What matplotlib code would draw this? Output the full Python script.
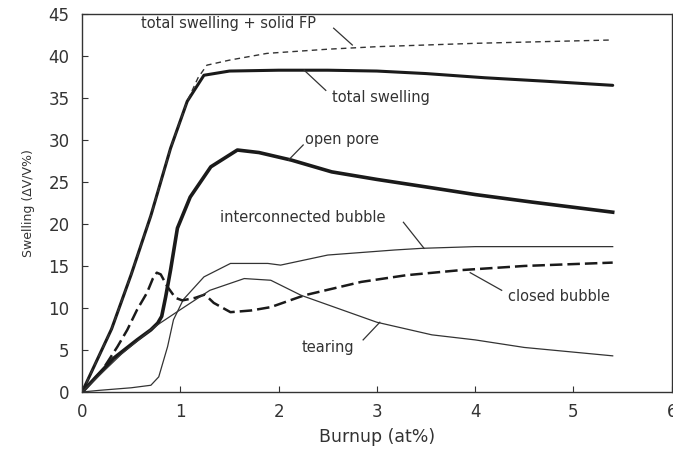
import matplotlib
matplotlib.use("Agg")
import matplotlib.pyplot as plt

# ---- data ----
total_x = [0, 0.3, 0.5, 0.7, 0.9, 1.07, 1.24, 1.5, 2.0, 2.5, 3.0, 3.5, 4.1, 4.7, 5.4]
total_y = [0, 7.5, 14, 21, 29, 34.6, 37.7, 38.2, 38.3, 38.3, 38.2, 37.9, 37.4, 37.0, 36.5]

fp_x = [0, 0.3, 0.5, 0.7, 0.9, 1.07, 1.18, 1.27, 1.5, 1.88, 2.0, 2.5, 3.0, 4.0, 5.4]
fp_y = [0, 7.5, 14, 21, 29, 34.6, 37.4, 38.9, 39.5, 40.3, 40.4, 40.8, 41.1, 41.5, 41.9]

open_x = [0, 0.32, 0.56, 0.7, 0.77, 0.81, 0.85, 0.9, 0.97, 1.1, 1.31, 1.58, 1.8, 2.13, 2.54, 3.0, 3.56, 4.0, 4.58, 5.4]
open_y = [0, 4.0, 6.2, 7.4, 8.2, 9.0, 11.3, 14.5, 19.5, 23.2, 26.8, 28.8, 28.5, 27.6, 26.2, 25.3, 24.3, 23.5, 22.6, 21.4]

inter_x = [0, 0.18, 0.5, 0.7, 0.78, 0.87, 0.93, 1.03, 1.24, 1.51, 1.89, 2.02, 2.5, 3.18, 3.46, 4.0, 5.4]
inter_y = [0, 0.2, 0.5, 0.8, 1.8, 5.4, 8.6, 11.0, 13.7, 15.3, 15.3, 15.1, 16.3, 16.9, 17.1, 17.3, 17.3]

closed_x = [0, 0.2, 0.36, 0.46, 0.56, 0.66, 0.72, 0.76, 0.8, 0.87, 0.95, 1.02, 1.15, 1.25, 1.34, 1.51, 1.72, 1.92, 2.26, 2.84, 3.3, 3.85, 4.5, 5.4]
closed_y = [0, 2.5, 5.4, 7.4, 9.8, 11.8, 13.5, 14.2, 14.0, 12.5, 11.2, 10.9, 11.2, 11.6, 10.6, 9.5, 9.7, 10.1, 11.5, 13.1, 13.9, 14.5, 15.0, 15.4]

tear_x = [0, 0.4, 0.73, 1.0, 1.3, 1.65, 1.92, 2.23, 3.0, 3.56, 4.0, 4.5, 5.4]
tear_y = [0, 4.5, 7.7, 9.8, 12.1, 13.5, 13.3, 11.5, 8.3, 6.8, 6.2, 5.3, 4.3]

x_ticks = [0, 1, 2, 3, 4, 5, 6]
y_ticks = [0, 5, 10, 15, 20, 25, 30, 35, 40, 45]

plt.rcParams['font.family'] = ['DejaVu Sans']
fig = plt.figure(figsize=(6.73, 4.49), dpi=100)
ax = fig.add_axes([0.122, 0.127, 0.876, 0.842])

ink = '#1a1a1a'
ax.plot(total_x, total_y, color=ink, lw=2.2, solid_capstyle='round')
ax.plot(fp_x, fp_y, color='#333333', lw=1.0, ls=(0, (4, 3)))
ax.plot(open_x, open_y, color=ink, lw=2.6)
ax.plot(inter_x, inter_y, color='#333333', lw=0.9)
ax.plot(closed_x, closed_y, color=ink, lw=1.8, ls=(0, (5, 2)))
ax.plot(tear_x, tear_y, color='#333333', lw=0.9)

fs = 10.5
tc = '#333333'
ax.text(1.49, 43.9, 'total swelling + solid FP', fontsize=fs, color=tc, ha='center', va='center')
ax.plot([2.56, 2.75], [43.3, 41.3], color=tc, lw=0.9)
ax.text(3.04, 35.1, 'total swelling', fontsize=fs, color=tc, ha='center', va='center')
ax.plot([2.26, 2.48], [38.3, 35.9], color=tc, lw=0.9)
ax.text(2.65, 30.1, 'open pore', fontsize=fs, color=tc, ha='center', va='center')
ax.plot([2.1, 2.25], [27.6, 29.4], color=tc, lw=0.9)
ax.text(2.25, 20.8, 'interconnected bubble', fontsize=fs, color=tc, ha='center', va='center')
ax.plot([3.27, 3.48], [20.2, 17.1], color=tc, lw=0.9)
ax.text(4.85, 11.4, 'closed bubble', fontsize=fs, color=tc, ha='center', va='center')
ax.plot([3.95, 4.27], [14.2, 12.1], color=tc, lw=0.9)
ax.text(2.5, 5.35, 'tearing', fontsize=fs, color=tc, ha='center', va='center')
ax.plot([2.86, 3.03], [6.2, 8.3], color=tc, lw=0.9)

ax.set_xlim(0, 6)
ax.set_ylim(0, 45)
ax.set_xticks(x_ticks)
ax.set_yticks(y_ticks)
ax.tick_params(direction='in', length=4, width=0.8, colors='#333333', labelsize=12)
ax.tick_params(axis='y', pad=9)
ax.tick_params(axis='x', pad=8)
for s in ax.spines.values():
    s.set_color('#333333')
    s.set_linewidth(1.0)
ax.set_xlabel('Burnup (at%)', fontsize=12.5, color='#333333', labelpad=5)
ax.set_ylabel('Swelling (ΔV/V%)', fontsize=9, color='#333333', labelpad=10)

fig.savefig('out.png', dpi=100)
